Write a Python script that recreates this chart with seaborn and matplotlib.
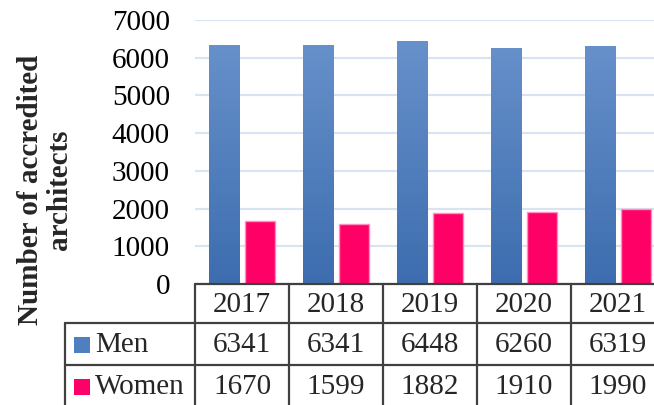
import numpy as np
import pandas as pd
import matplotlib
matplotlib.use("Agg")
import matplotlib.pyplot as plt
import matplotlib.transforms as mtransforms
from matplotlib.patches import Rectangle
from matplotlib.colors import LinearSegmentedColormap
import seaborn as sns

years = ["2017", "2018", "2019", "2020", "2021"]
men = [6341, 6341, 6448, 6260, 6319]
women = [1670, 1599, 1882, 1910, 1990]
series_names = ["Men", "Women"]
y_ticks = [0, 1000, 2000, 3000, 4000, 5000, 6000, 7000]
y_label = "Number of accredited\narchitects"

sns.set_theme(style="white")
plt.rcParams["font.family"] = ["Liberation Serif", "DejaVu Serif"]
FS = 21

W, H = 654, 405
fig = plt.figure(figsize=(W / 100, H / 100), dpi=100)
ax_left, ax_right = 195, 665
ax_top, ax_bot = 20, 284
ax = fig.add_axes([ax_left / W, (H - ax_bot) / H, (ax_right - ax_left) / W, (ax_bot - ax_top) / H])

df = pd.DataFrame({
    "Year": years * 2,
    "Value": men + women,
    "Sex": [series_names[0]] * len(years) + [series_names[1]] * len(years),
})
men_col_top = "#6b94cd"
men_col_bot = "#3d6daf"
women_col = "#ff0066"
sns.barplot(data=df, x="Year", y="Value", hue="Sex", order=years, hue_order=series_names,
            palette=[men_col_bot, women_col], width=0.76, gap=0.16, legend=False,
            ax=ax, zorder=3, saturation=1)

ax.set_xlim(-0.5, len(years) - 0.5)
ax.set_ylim(0, 7000)
ax.set_yticks(y_ticks)
ax.set_yticklabels([str(t) for t in y_ticks], fontsize=FS, color="black")
ax.tick_params(axis="y", length=0, pad=18)
ax.set_xticks([])
ax.set_xlabel("")
ax.set_ylabel("")
for s in ax.spines.values():
    s.set_visible(False)
ax.yaxis.grid(True, color="#d9e4f3", linewidth=1.6, zorder=0)
ax.set_axisbelow(True)

# gradient for Men bars, edge for Women bars
cmap = LinearSegmentedColormap.from_list("menG", [men_col_bot, men_col_top])
grad = np.linspace(0, 1, 256).reshape(-1, 1)
for i, p in enumerate(ax.patches):
    if i < len(years):
        x0 = p.get_x()
        w = p.get_width()
        im = ax.imshow(grad, extent=[x0, x0 + w, 0, 7000], origin="lower", aspect="auto",
                       cmap=cmap, zorder=3.5)
        im.set_clip_path(p)
        p.set_edgecolor("none")
    else:
        p.set_edgecolor("#ff8fbf")
        p.set_linewidth(1.0)
ax.set_xlim(-0.5, len(years) - 0.5)
ax.set_ylim(0, 7000)

# data table
trans = mtransforms.blended_transform_factory(ax.transData, fig.transFigure)
def fy(py):
    return (H - py) / H
line_col = "#404040"
lw = 1.6
y_top, y_r1, y_r2, y_bottom = 284, 323, 365, 410
n = len(years)
ax.plot([-0.5, n - 0.5], [fy(y_top)] * 2, transform=trans, color=line_col, lw=lw, clip_on=False, zorder=5)
for yy in (y_r1, y_r2):
    fig.add_artist(plt.Line2D([65 / W, 1.0], [fy(yy)] * 2, color=line_col, lw=lw))
for k in range(n + 1):
    ax.plot([k - 0.5, k - 0.5], [fy(y_top), fy(y_bottom)], transform=trans, color=line_col,
            lw=lw, clip_on=False, zorder=5)
fig.add_artist(plt.Line2D([65 / W, 65 / W], [fy(y_r1), fy(y_bottom)], color=line_col, lw=lw))

row_centers = [(y_top + y_r1) / 2 + 1, (y_r1 + y_r2) / 2 + 1, (y_r2 + y_bottom) / 2 - 1]
for k, yr in enumerate(years):
    ax.text(k, fy(row_centers[0]), yr, transform=trans, ha="center", va="center", fontsize=FS)
    ax.text(k, fy(row_centers[1]), str(men[k]), transform=trans, ha="center", va="center", fontsize=FS)
    ax.text(k, fy(row_centers[2]), str(women[k]), transform=trans, ha="center", va="center", fontsize=FS)

key_cols = ["#4f7fc0", women_col]
for j, name in enumerate(series_names):
    yc = row_centers[1 + j]
    fig.add_artist(Rectangle((74 / W, fy(yc + 8)), 16 / W, 16 / H, transform=fig.transFigure,
                             facecolor=key_cols[j], edgecolor="none"))
    fig.text(95 / W, fy(yc), name, ha="left", va="center", fontsize=FS)

fig.text(45 / W, fy(190), y_label, rotation=90, ha="center", va="center", fontsize=FS,
         fontweight="bold", linespacing=1.05, multialignment="center")

fig.savefig("out.png", dpi=100)
